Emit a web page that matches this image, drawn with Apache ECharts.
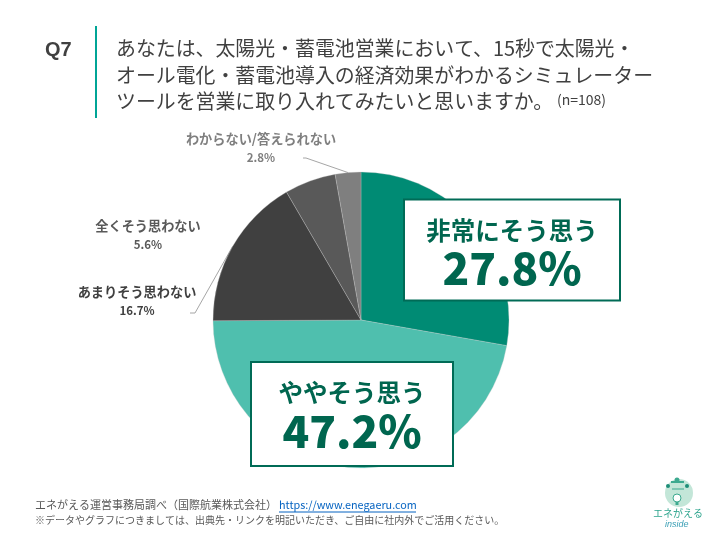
<!DOCTYPE html>
<html>
<head>
<meta charset="utf-8">
<style>html,body{margin:0;padding:0;background:#fff}#c{width:720px;height:540px}</style>
<script src="https://cdn.jsdelivr.net/npm/echarts@6/dist/echarts.min.js"></script>
</head>
<body>
<div id="c"></div>
<script>
const categories = ['非常にそう思う','ややそう思う','あまりそう思わない','全くそう思わない','わからない/答えられない'];
const values = [27.8,47.2,16.7,5.6,2.8];
const colors = ['#008B74','#4FBFAE','#404040','#595959','#7F7F7F'];
const titleLines = ['あなたは、太陽光・蓄電池営業において、15秒で太陽光・','オール電化・蓄電池導入の経済効果がわかるシミュレーター','ツールを営業に取り入れてみたいと思いますか。'];
const FONT = '"Noto Sans CJK JP","Noto Sans",sans-serif';

const labelPlace = [
  {x:512,y:250,align:'center',verticalAlign:'middle'},
  {x:352,y:414,align:'center',verticalAlign:'middle'},
  {x:137,y:301,align:'center',verticalAlign:'middle'},
  {x:148,y:235,align:'center',verticalAlign:'middle'},
  {x:261,y:148,align:'center',verticalAlign:'middle'}
];
const leaderEnds = {2:[[195,313],[190,313]],4:[[306,158],[303,158]]};
const boxSize = [{width:214,height:84},{width:200,height:87}];

const pieData = categories.map((name,i)=>{
  const big = i<2;
  const item = {name,value:values[i],itemStyle:{color:colors[i]}};
  if(big){
    item.label = {
      formatter:'{a|'+name+'}\n{b|'+values[i].toFixed(1)+'%}',
      backgroundColor:'#fff',borderColor:'#006B56',borderWidth:2,
      width:boxSize[i].width,height:boxSize[i].height,align:'center',
      padding:[15,0,0,0],
      rich:{
        a:{fontFamily:FONT,fontSize:24.5,fontWeight:700,color:'#00664F',lineHeight:30,align:'center',width:boxSize[i].width},
        b:{fontFamily:FONT,fontSize:44,fontWeight:900,color:'#00664F',lineHeight:46,align:'center',width:boxSize[i].width}
      }
    };
    item.labelLine = {show:false};
  } else {
    item.label = {
      formatter:'{a|'+name+'}\n{b|'+values[i].toFixed(1)+'%}',
      rich:{
        a:{fontFamily:FONT,fontSize:13.2,fontWeight:700,color:colors[i],lineHeight:20,align:'center'},
        b:{fontFamily:FONT,fontSize:11.5,fontWeight:700,color:colors[i],lineHeight:19,align:'center'}
      }
    };
    item.labelLine = {show:i!==3,lineStyle:{color:'#A6A6A6',width:1}};
  }
  return item;
});

const text = (x,y,t,size,color,extra)=>({type:'text',x,y,style:Object.assign({text:t,fontFamily:FONT,fontSize:size,fill:color,verticalAlign:'middle'},extra||{})});

const graphics = [
  {type:'line',shape:{x1:96,y1:26,x2:96,y2:118},style:{stroke:'#00A596',lineWidth:2}},
  text(45,50,'Q7',20,'#404040',{fontFamily:'"Liberation Sans",Arial,sans-serif',fontWeight:700}),
  text(116,48,titleLines[0],19.9,'#404040'),
  text(116,75,titleLines[1],19.9,'#404040'),
  text(116,101,titleLines[2],19.9,'#404040'),
  text(557,100,'(n=108)',14,'#404040'),
  text(35,505,'エネがえる運営事務局調べ（国際航業株式会社）',11,'#595959'),
  text(279,505,'https://www.enegaeru.com',10.8,'#0563C1'),
  {type:'line',shape:{x1:279,y1:512,x2:416,y2:512},style:{stroke:'#0563C1',lineWidth:1}},
  text(35,520,'※データやグラフにつきましては、出典先・リンクを明記いただき、ご自由に社内外でご活用ください。',10,'#595959'),
  // logo
  {type:'circle',shape:{cx:679,cy:493,r:14},style:{fill:'#C3E6D8'}},
  {type:'circle',shape:{cx:677,cy:480,r:2.5},style:{fill:'#3CA98F'}},
  {type:'rect',shape:{x:671,y:481,width:13,height:2},style:{fill:'#3CA98F'}},
  {type:'circle',shape:{cx:668,cy:486,r:2},style:{fill:'#1E8E78'}},
  {type:'circle',shape:{cx:687,cy:486,r:2},style:{fill:'#1E8E78'}},
  {type:'line',shape:{x1:672,y1:489,x2:684,y2:489},style:{stroke:'#3CA98F',lineWidth:1}},
  {type:'circle',shape:{cx:677,cy:498,r:4},style:{fill:'#fff',stroke:'#3CA98F',lineWidth:1}},
  {type:'rect',shape:{x:675.5,y:502,width:3,height:3},style:{fill:'#3CA98F'}},
  text(653,513,'エネがえる',10,'#2FA58E'),
  text(665,524,'inside',9,'#3A9FB5',{fontStyle:'italic',fontFamily:'"Liberation Sans",sans-serif',letterSpacing:1})
];

const chart = echarts.init(document.getElementById('c'),null,{renderer:'canvas'});
chart.setOption({
  animation:false,
  backgroundColor:'#fff',
  graphic:graphics,
  series:[{
    type:'pie',
    center:[361,320],
    radius:[0,148],
    startAngle:90,
    clockwise:true,
    avoidLabelOverlap:false,
    minAngle:0,
    itemStyle:{borderColor:'rgba(200,200,200,0.6)',borderWidth:0.5},
    emphasis:{disabled:true},
    data:pieData,
    label:{show:true,position:'outside'},
    labelLine:{show:true,length:15,length2:5},
    labelLayout:(p)=>{
      const o = Object.assign({},labelPlace[p.dataIndex]);
      const ends = leaderEnds[p.dataIndex];
      if(ends && p.labelLinePoints){ o.labelLinePoints=[p.labelLinePoints[0],ends[0],ends[1]]; }
      return o;
    }
  }]
});
</script>
</body>
</html>
